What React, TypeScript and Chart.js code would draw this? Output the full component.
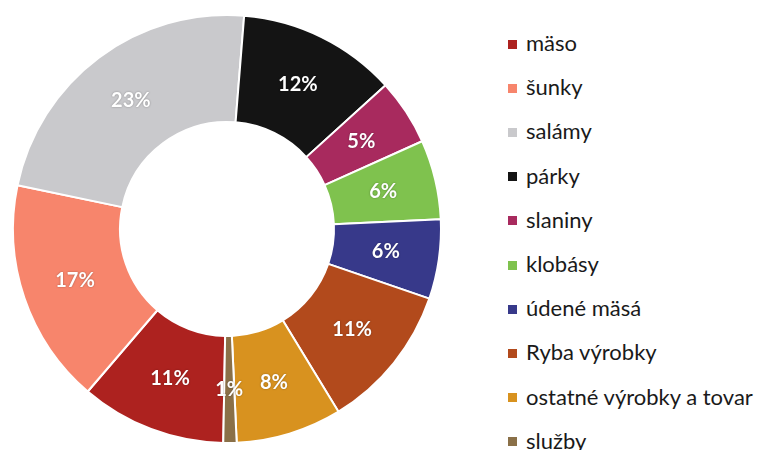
import React, { useEffect, useRef } from "react";
import { Chart, registerables } from "chart.js";

Chart.register(...registerables);

const categories = [
  "mäso",
  "šunky",
  "salámy",
  "párky",
  "slaniny",
  "klobásy",
  "údené mäsá",
  "Ryba výrobky",
  "ostatné výrobky a tovar",
  "služby",
];
const shares = [11, 17, 23, 12, 5, 6, 6, 11, 8, 1];
const sliceColors = [
  "#AD221F",
  "#F7856C",
  "#C9C9CC",
  "#141414",
  "#A82A5E",
  "#7FC24E",
  "#37398A",
  "#B24A1C",
  "#D8921F",
  "#8A7048",
];
const percentLabels = shares.map((v) => `${v}%`);

const sliceLabelPlugin = {
  id: "sliceLabels",
  afterDatasetsDraw(chart: any) {
    const ctx = chart.ctx;
    const meta = chart.getDatasetMeta(0);
    ctx.save();
    ctx.font = "bold 20px Lato";
    ctx.fillStyle = "#ffffff";
    ctx.textAlign = "center";
    ctx.textBaseline = "middle";
    ctx.shadowColor = "rgba(0,0,0,0.35)";
    ctx.shadowBlur = 2;
    meta.data.forEach((arc: any, i: number) => {
      const p = arc.tooltipPosition();
      ctx.fillText(percentLabels[i], p.x, p.y);
    });
    ctx.restore();
  },
};

export default function App() {
  const canvasRef = useRef<HTMLCanvasElement | null>(null);

  useEffect(() => {
    if (!canvasRef.current) return;
    const chart = new Chart(canvasRef.current, {
      type: "doughnut",
      data: {
        labels: categories,
        datasets: [
          {
            data: shares,
            backgroundColor: sliceColors,
            borderColor: "#ffffff",
            borderWidth: 2,
          },
        ],
      },
      options: {
        responsive: false,
        animation: false,
        rotation: 181,
        cutout: "50%",
        layout: { padding: { left: 12, right: 14, top: 14, bottom: 6 } },
        plugins: {
          legend: { display: false },
          tooltip: { enabled: false },
        },
      },
      plugins: [sliceLabelPlugin],
    });
    return () => chart.destroy();
  }, []);

  return (
    <div
      style={{
        position: "absolute",
        left: 0,
        top: 0,
        width: 761,
        height: 450,
        background: "#ffffff",
        overflow: "hidden",
      }}
    >
      <canvas
        ref={canvasRef}
        width={456}
        height={450}
        style={{ position: "absolute", left: 0, top: 0, width: 456, height: 450 }}
      />
      {categories.map((name, i) => {
        const cy = 42.5 + 44.2 * i;
        return (
          <div
            key={name}
            style={{
              position: "absolute",
              left: 508,
              top: cy - 15,
              height: 30,
              display: "flex",
              alignItems: "center",
              fontFamily: "Lato, 'Open Sans', sans-serif",
              fontSize: 22,
              color: "#1a1a1a",
              whiteSpace: "nowrap",
            }}
          >
            <span
              style={{
                display: "inline-block",
                width: 9,
                height: 9,
                background: sliceColors[i],
                marginRight: 9,
                marginTop: 3,
              }}
            />
            <span>{name}</span>
          </div>
        );
      })}
    </div>
  );
}
